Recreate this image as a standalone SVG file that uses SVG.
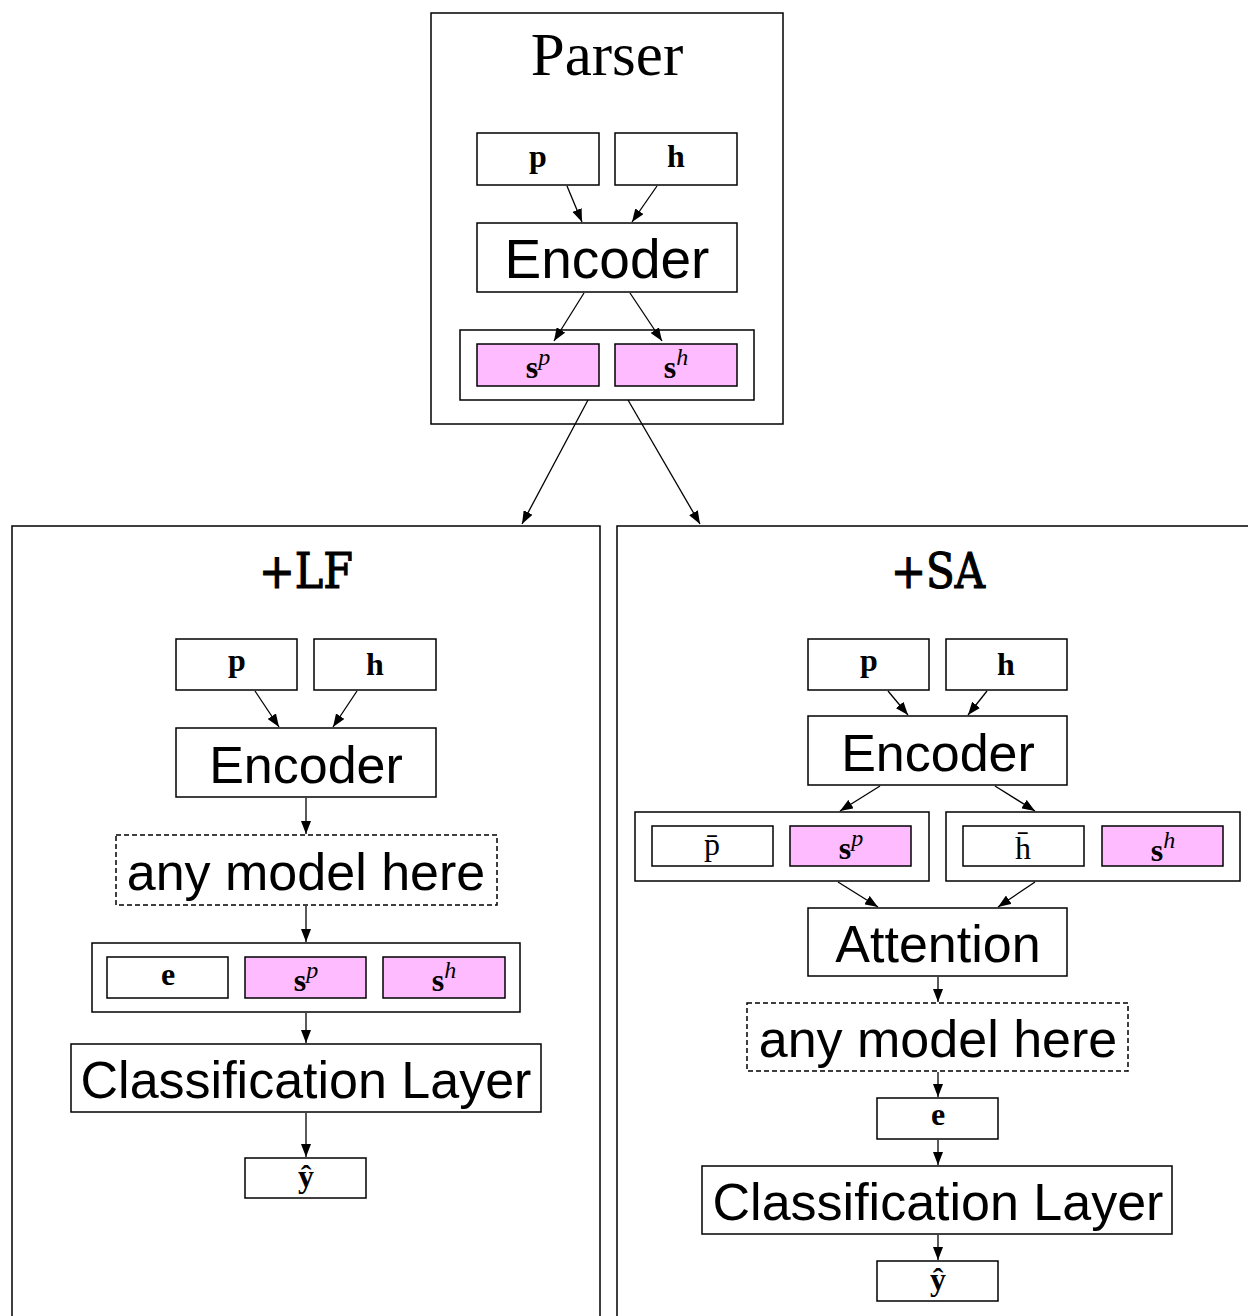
<svg xmlns="http://www.w3.org/2000/svg" width="1248" height="1316" viewBox="0 0 1248 1316">
<defs>
<marker id="ah" viewBox="0 0 13 10" refX="13" refY="5" markerWidth="13" markerHeight="10" markerUnits="userSpaceOnUse" orient="auto">
<path d="M0,0 L13,5 L0,10 Z" fill="#000"/>
</marker>
<style>
.box{fill:#fff;stroke:#000;stroke-width:1.5}
.pink{fill:#ffbbff;stroke:#000;stroke-width:1.5}
.dash{fill:#fff;stroke:#000;stroke-width:1.5;stroke-dasharray:5,3}
.panel{fill:none;stroke:#000;stroke-width:1.5}
.sans{font-family:"Liberation Sans",Arial,sans-serif;font-size:52px;text-anchor:middle;fill:#000}
.math{font-family:"Liberation Serif","Times New Roman",serif;font-size:32px;font-weight:bold;text-anchor:middle;fill:#000}
.sup{font-style:italic;font-weight:normal;font-size:24px}
.mono{font-family:"DejaVu Serif","Liberation Serif",serif;font-size:49px;text-anchor:middle;fill:#000;stroke:#000;stroke-width:1.2}
.title{font-family:"Liberation Serif","Times New Roman",serif;font-size:61px;text-anchor:middle;fill:#000}
.edge{stroke:#000;stroke-width:1.3;fill:none;marker-end:url(#ah)}
</style>
</defs>

<!-- Parser panel -->
<g id="parser">
<rect class="panel" x="431" y="13" width="352" height="411"/>
<text class="title" x="607" y="75">Parser</text>
</g>
<g id="parser-p"><rect class="box" x="477" y="133" width="122" height="52"/><text class="math" x="538" y="167">p</text></g>
<g id="parser-h"><rect class="box" x="615" y="133" width="122" height="52"/><text class="math" x="676" y="167">h</text></g>
<g id="parser-encoder"><rect class="box" x="477" y="223" width="260" height="69"/><text class="sans" x="607" y="278" style="font-size:55px">Encoder</text></g>
<g id="parser-s"><rect class="box" x="460" y="330" width="294" height="70"/>
<rect class="pink" x="477" y="344" width="122" height="42"/><text class="math" x="538" y="378">s<tspan class="sup" dy="-13">p</tspan></text>
<rect class="pink" x="615" y="344" width="122" height="42"/><text class="math" x="676" y="378">s<tspan class="sup" dy="-13">h</tspan></text>
</g>

<!-- +LF panel -->
<g id="lf">
<rect class="panel" x="12" y="526" width="588" height="800"/>
<text class="mono" x="306" y="588" textLength="94" lengthAdjust="spacingAndGlyphs">+LF</text>
</g>
<g id="lf-p"><rect class="box" x="176" y="639" width="121" height="51"/><text class="math" x="237" y="671">p</text></g>
<g id="lf-h"><rect class="box" x="314" y="639" width="122" height="51"/><text class="math" x="375" y="675">h</text></g>
<g id="lf-encoder"><rect class="box" x="176" y="728" width="260" height="69"/><text class="sans" x="306" y="783">Encoder</text></g>
<g id="lf-any"><rect class="dash" x="116" y="835" width="381" height="70"/><text class="sans" x="306" y="890">any model here</text></g>
<g id="lf-concat"><rect class="box" x="92" y="943" width="428" height="69"/>
<rect class="box" x="107" y="957" width="121" height="41"/><text class="math" x="168" y="985">e</text>
<rect class="pink" x="245" y="957" width="121" height="41"/><text class="math" x="306" y="991">s<tspan class="sup" dy="-13">p</tspan></text>
<rect class="pink" x="383" y="957" width="122" height="41"/><text class="math" x="444" y="991">s<tspan class="sup" dy="-13">h</tspan></text>
</g>
<g id="lf-cls"><rect class="box" x="71" y="1044" width="470" height="68"/><text class="sans" x="306" y="1098">Classification Layer</text></g>
<g id="lf-y"><rect class="box" x="245" y="1158" width="121" height="40"/><text class="math" x="306" y="1187">ŷ</text></g>

<!-- +SA panel -->
<g id="sa">
<rect class="panel" x="617" y="526" width="640" height="800"/>
<text class="mono" x="938" y="588" textLength="94" lengthAdjust="spacingAndGlyphs">+SA</text>
</g>
<g id="sa-p"><rect class="box" x="808" y="639" width="121" height="51"/><text class="math" x="869" y="671">p</text></g>
<g id="sa-h"><rect class="box" x="946" y="639" width="121" height="51"/><text class="math" x="1006" y="675">h</text></g>
<g id="sa-encoder"><rect class="box" x="808" y="716" width="259" height="69"/><text class="sans" x="938" y="771">Encoder</text></g>
<g id="sa-left"><rect class="box" x="635" y="812" width="294" height="69"/>
<rect class="box" x="652" y="826" width="121" height="40"/><text class="math" x="712" y="855" style="font-weight:normal">p̄</text>
<rect class="pink" x="790" y="826" width="121" height="40"/><text class="math" x="851" y="859">s<tspan class="sup" dy="-13">p</tspan></text>
</g>
<g id="sa-right"><rect class="box" x="946" y="812" width="294" height="69"/>
<rect class="box" x="963" y="826" width="121" height="40"/><text class="math" x="1023" y="859" style="font-weight:normal">h̄</text>
<rect class="pink" x="1102" y="826" width="121" height="40"/><text class="math" x="1163" y="861">s<tspan class="sup" dy="-13">h</tspan></text>
</g>
<g id="sa-attn"><rect class="box" x="808" y="908" width="259" height="68"/><text class="sans" x="938" y="962">Attention</text></g>
<g id="sa-any"><rect class="dash" x="747" y="1003" width="381" height="68"/><text class="sans" x="938" y="1057">any model here</text></g>
<g id="sa-e"><rect class="box" x="877" y="1098" width="121" height="41"/><text class="math" x="938" y="1125">e</text></g>
<g id="sa-cls"><rect class="box" x="702" y="1166" width="470" height="68"/><text class="sans" x="938" y="1220">Classification Layer</text></g>
<g id="sa-y"><rect class="box" x="877" y="1261" width="121" height="40"/><text class="math" x="938" y="1290">ŷ</text></g>

<!-- connectors -->
<g id="connectors">
<line class="edge" x1="567" y1="186" x2="582" y2="222"/>
<line class="edge" x1="657" y1="186" x2="632" y2="222"/>
<line class="edge" x1="584" y1="293" x2="554" y2="341"/>
<line class="edge" x1="630" y1="293" x2="662" y2="341"/>
<line class="edge" x1="588" y1="400" x2="522" y2="524"/>
<line class="edge" x1="628" y1="400" x2="700" y2="524"/>

<line class="edge" x1="255" y1="691" x2="279" y2="727"/>
<line class="edge" x1="357" y1="691" x2="333" y2="727"/>
<line class="edge" x1="306" y1="798" x2="306" y2="834"/>
<line class="edge" x1="306" y1="906" x2="306" y2="942"/>
<line class="edge" x1="306" y1="1013" x2="306" y2="1043"/>
<line class="edge" x1="306" y1="1113" x2="306" y2="1157"/>

<line class="edge" x1="888" y1="691" x2="908" y2="715"/>
<line class="edge" x1="987" y1="691" x2="968" y2="715"/>
<line class="edge" x1="880" y1="786" x2="840" y2="811"/>
<line class="edge" x1="995" y1="786" x2="1035" y2="811"/>
<line class="edge" x1="838" y1="882" x2="878" y2="907"/>
<line class="edge" x1="1035" y1="882" x2="998" y2="907"/>
<line class="edge" x1="938" y1="977" x2="938" y2="1002"/>
<line class="edge" x1="938" y1="1072" x2="938" y2="1097"/>
<line class="edge" x1="938" y1="1140" x2="938" y2="1165"/>
<line class="edge" x1="938" y1="1235" x2="938" y2="1260"/>
</g>
</svg>
